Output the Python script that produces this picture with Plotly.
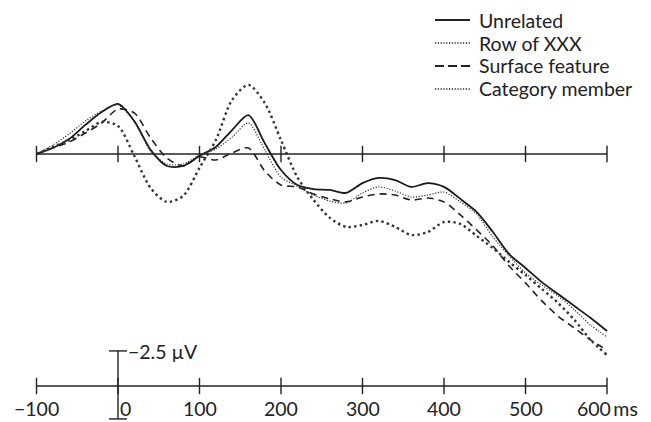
import plotly.graph_objects as go

# time in ms
time_ms = [-100, -80, -60, -40, -20, 0, 20, 40, 60, 80, 100, 120, 140, 160, 180, 200,
           220, 240, 260, 280, 300, 320, 340, 360, 380, 400, 420, 440, 460, 480, 500,
           520, 540, 560, 580, 600]

# amplitudes in microvolts (negative plotted up)
unrelated = [0, -0.22, -0.55, -1.07, -1.54, -1.84, -1.21, -0.15, 0.44, 0.44, 0.07, -0.26,
             -0.88, -1.43, -0.40, 0.59, 1.14, 1.29, 1.32, 1.43, 1.07, 0.88, 0.96, 1.21,
             1.07, 1.21, 1.65, 2.13, 2.87, 3.68, 4.19, 4.71, 5.15, 5.59, 6.03, 6.51]
row_of_xxx = [0, -0.33, -0.74, -1.21, -1.58, -1.80, -1.18, -0.11, 0.37, 0.37, 0.04, -0.18,
              -0.62, -1.14, -0.15, 0.85, 1.18, 1.51, 1.73, 1.80, 1.43, 1.21, 1.36, 1.58,
              1.51, 1.40, 1.76, 2.21, 3.05, 3.75, 4.37, 4.82, 5.22, 5.73, 6.29, 6.73]
surface_feature = [0, -0.22, -0.44, -0.77, -1.14, -1.65, -1.51, -0.59, 0.15, 0.44, 0.11, 0.22,
                   -0.04, -0.22, 0.62, 1.14, 1.21, 1.47, 1.65, 1.76, 1.58, 1.47, 1.51, 1.69,
                   1.62, 1.76, 2.24, 2.79, 3.38, 4.12, 4.74, 5.40, 5.96, 6.40, 6.84, 7.21]
category_member = [0, -0.26, -0.51, -0.84, -1.18, -1.03, 0.07, 1.25, 1.76, 1.54, 0.51, -0.51,
                   -1.99, -2.54, -1.88, -0.51, 0.85, 1.69, 2.35, 2.68, 2.61, 2.46, 2.68, 2.98,
                   2.87, 2.50, 2.57, 3.01, 3.46, 3.97, 4.45, 4.96, 5.48, 6.10, 6.84, 7.39]

series_names = ["Unrelated", "Row of XXX", "Surface feature", "Category member"]

tick_vals = [-100, 0, 100, 200, 300, 400, 500, 600]
tick_text = ["\u2212100", "0", "100", "200", "300", "400", "500", "600\u2009ms"]
scale_label = "\u22122.5\u202f\u00b5V"
scale_uv = 2.5

FONT = "Lato"
FS = 19.5
INK = "#222222"

# page body has an 8 px margin; figure is sized to fill the rest of the 651x422 window
W, H, OFF = 643, 414, 8

styles = [
    dict(color="#1a1a1a", width=1.8, dash="solid"),
    dict(color="#333333", width=1.2, dash="1.2px,1.6px"),
    dict(color="#222222", width=1.6, dash="7px,5px"),
    dict(color="#333333", width=2.4, dash="2.4px,3.2px"),
]
legend_dash = ["solid", "1.2px,1.6px", "9px,4px", "1.2px,1.6px"]
legend_width = [2.2, 1.3, 2.2, 1.3]

fig = go.Figure()
for name, ys, st in zip(series_names, [unrelated, row_of_xxx, surface_feature, category_member], styles):
    fig.add_trace(go.Scatter(x=time_ms, y=ys, mode="lines", name=name, showlegend=False,
                             line=dict(color=st["color"], width=st["width"], dash=st["dash"],
                                       shape="spline", smoothing=0.8)))

shapes = []
axis_lw = 1.4
baseline_uv = 8.53     # level of the lower time axis
tick_half = 0.3        # half tick height (uV)
# zero line with ticks
shapes.append(dict(type="line", xref="x", yref="y", x0=tick_vals[0], x1=tick_vals[-1], y0=0, y1=0,
                   line=dict(color=INK, width=axis_lw)))
for t in tick_vals:
    shapes.append(dict(type="line", xref="x", yref="y", x0=t, x1=t, y0=-tick_half, y1=tick_half,
                       line=dict(color=INK, width=axis_lw)))
# lower time axis with ticks
shapes.append(dict(type="line", xref="x", yref="y", x0=tick_vals[0], x1=tick_vals[-1],
                   y0=baseline_uv, y1=baseline_uv, line=dict(color=INK, width=axis_lw)))
for t in tick_vals:
    shapes.append(dict(type="line", xref="x", yref="y", x0=t, x1=t,
                       y0=baseline_uv - tick_half, y1=baseline_uv + tick_half,
                       line=dict(color=INK, width=axis_lw)))
# scale bar of 2.5 uV
sb_top = baseline_uv - 1.29
sb_bot = sb_top + scale_uv
shapes.append(dict(type="line", xref="x", yref="y", x0=0, x1=0, y0=sb_top, y1=sb_bot,
                   line=dict(color=INK, width=axis_lw)))
for yy in (sb_top, sb_bot):
    shapes.append(dict(type="line", xref="x", yref="y", x0=-11, x1=11, y0=yy, y1=yy,
                       line=dict(color=INK, width=axis_lw)))

annotations = []
for t, txt in zip(tick_vals, tick_text):
    annotations.append(dict(x=t, y=9.34, xref="x", yref="y", text=txt, showarrow=False,
                            xanchor="center", yanchor="middle",
                            xshift=7 if t == 0 else 0,
                            font=dict(family=FONT, size=FS, color=INK)))
annotations.append(dict(x=0, y=sb_top, xref="x", yref="y", text=scale_label, showarrow=False,
                        xanchor="left", yanchor="middle", xshift=8, yshift=-1,
                        font=dict(family=FONT, size=FS, color=INK)))

# hand-placed legend (screen rows at 20, 43, 66, 89 px)
def px_x(X):
    return (X - OFF) / W

def px_y(Y):
    return 1 - (Y - OFF) / H

for i, name in enumerate(series_names):
    yc = 20 + 23 * i
    shapes.append(dict(type="line", xref="paper", yref="paper",
                       x0=px_x(435), x1=px_x(470), y0=px_y(yc), y1=px_y(yc),
                       line=dict(color=INK, width=legend_width[i], dash=legend_dash[i])))
    annotations.append(dict(x=px_x(477), y=px_y(yc), xref="paper", yref="paper", text=name,
                            showarrow=False, xanchor="left", yanchor="middle",
                            font=dict(family=FONT, size=FS, color=INK)))

x_per_px = 1 / 0.815
fig.update_layout(
    width=W, height=H,
    margin=dict(l=0, r=0, t=0, b=0),
    paper_bgcolor="white", plot_bgcolor="white",
    xaxis=dict(range=[(OFF - 118) * x_per_px, (OFF + W - 118) * x_per_px], visible=False, fixedrange=True),
    yaxis=dict(range=[(OFF + H - 154) / 27.2, (OFF - 154) / 27.2], visible=False, fixedrange=True),
    shapes=shapes,
    annotations=annotations,
    showlegend=False,
)

fig.write_html("out.html")
